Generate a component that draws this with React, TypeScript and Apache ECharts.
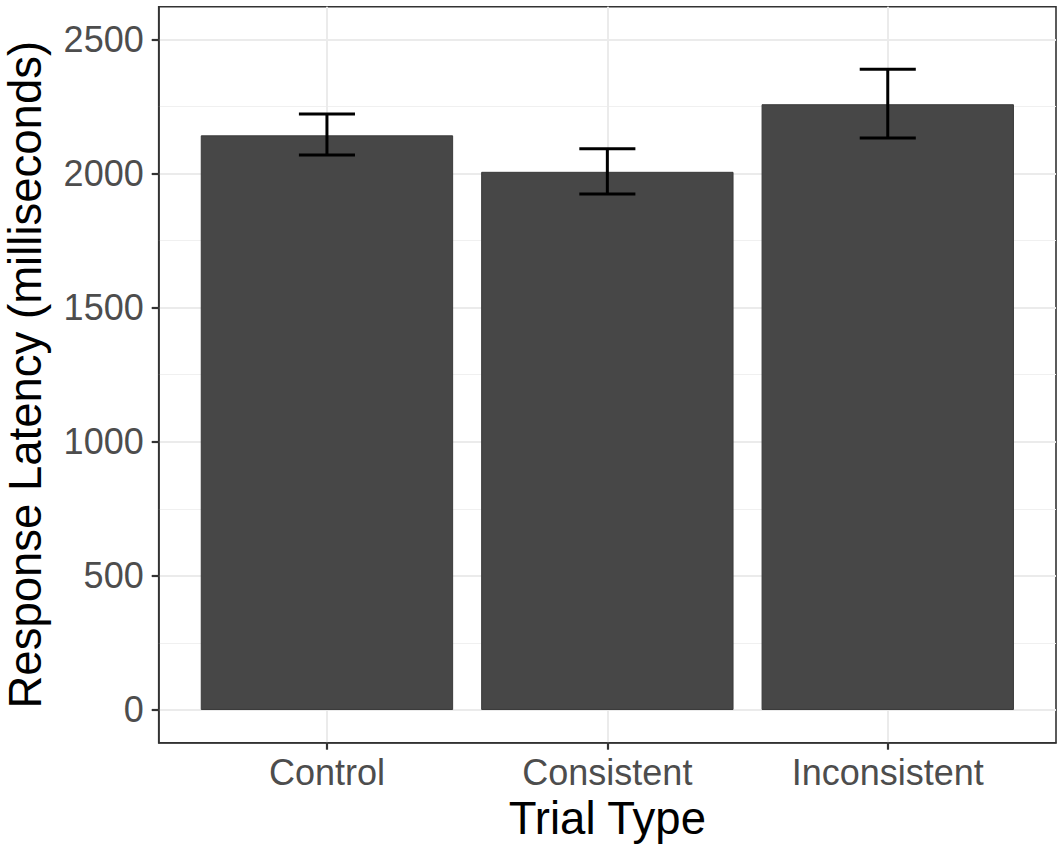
import React, { useEffect, useRef } from "react";
import * as echarts from "echarts";

const categories = ["Control", "Consistent", "Inconsistent"];
const means = [2142, 2006, 2258];
const errLow = [2069, 1923, 2132];
const errHigh = [2222, 2092, 2388];
const yMajorTicks = [0, 500, 1000, 1500, 2000, 2500];
const yMinorTicks = [250, 750, 1250, 1750, 2250];
const xTicks = [0, 1, 2];

const FONT = "'Liberation Sans', Arial, Helvetica, sans-serif";

export default function App() {
  const ref = useRef<HTMLDivElement>(null);
  useEffect(() => {
    if (!ref.current) return;
    const chart = echarts.init(ref.current, undefined, { renderer: "svg" });
    const barData = means.map((v, i) => [i, v]);
    const errData = means.map((_, i) => [i, errLow[i], errHigh[i]]);
    chart.setOption({
      animation: false,
      backgroundColor: "#ffffff",
      grid: {
        left: 158.7,
        right: 7,
        top: 6.7,
        bottom: 106.3,
        containLabel: false,
        outerBoundsMode: "none",
        show: true,
        borderColor: "#333333",
        borderWidth: 1.6,
        backgroundColor: "transparent",
      },
      xAxis: {
        type: "value",
        min: -0.6,
        max: 2.6,
        name: "Trial Type",
        nameLocation: "middle",
        nameGap: 41,
        nameTextStyle: { fontSize: 45.5, color: "#000000", fontFamily: FONT },
        axisLine: { show: true, onZero: false, lineStyle: { color: "#333333", width: 1.6 } },
        axisTick: {
          show: true,
          length: 7,
          customValues: xTicks,
          lineStyle: { color: "#333333", width: 2.2 },
        },
        axisLabel: {
          show: true,
          customValues: xTicks,
          margin: 12,
          fontSize: 36,
          color: "#4D4D4D",
          fontFamily: FONT,
          formatter: (v: number) => categories[Math.round(v)] ?? "",
        },
        splitLine: { show: true, lineStyle: { color: "#EBEBEB", width: 2 } },
      },
      yAxis: [
        {
          type: "value",
          position: "left",
          min: -121.9,
          max: 2621.5,
          name: "Response Latency (milliseconds)",
          nameLocation: "middle",
          nameGap: 112,
          nameTextStyle: { fontSize: 45.5, lineHeight: 42, color: "#000000", fontFamily: FONT },
          axisLine: { show: true, onZero: false, lineStyle: { color: "#333333", width: 1.6 } },
          axisTick: {
            show: true,
            length: 7,
            customValues: yMajorTicks,
            lineStyle: { color: "#333333", width: 2.2 },
          },
          axisLabel: {
            show: true,
            customValues: yMajorTicks,
            margin: 15,
            fontSize: 36,
            color: "#4D4D4D",
            fontFamily: FONT,
            formatter: (v: number) => String(v),
          },
          splitLine: { show: true, lineStyle: { color: "#EBEBEB", width: 2 } },
        },
        {
          type: "value",
          position: "left",
          min: -121.9,
          max: 2621.5,
          axisLine: { show: false, onZero: false },
          axisTick: { show: false, customValues: yMinorTicks },
          axisLabel: { show: false, customValues: yMinorTicks },
          splitLine: { show: true, lineStyle: { color: "#F0F0F0", width: 1.2 } },
        },
      ],
      series: [
        {
          type: "bar",
          xAxisIndex: 0,
          yAxisIndex: 0,
          data: barData,
          barWidth: "90%",
          itemStyle: { color: "#474747", borderColor: "#3a3a3a", borderWidth: 1 },
          z: 2,
        },
        {
          type: "custom",
          xAxisIndex: 0,
          yAxisIndex: 0,
          data: errData,
          z: 3,
          renderItem: (params: any, api: any) => {
            const x = api.value(0);
            const lo = api.value(1);
            const hi = api.value(2);
            const pTop = api.coord([x, hi]);
            const pBot = api.coord([x, lo]);
            const capL = api.coord([x - 0.1, hi]);
            const capR = api.coord([x + 0.1, hi]);
            const capL2 = api.coord([x - 0.1, lo]);
            const capR2 = api.coord([x + 0.1, lo]);
            const style = { stroke: "#000000", lineWidth: 3 };
            return {
              type: "group",
              children: [
                { type: "line", shape: { x1: pTop[0], y1: pTop[1], x2: pBot[0], y2: pBot[1] }, style },
                { type: "line", shape: { x1: capL[0], y1: capL[1], x2: capR[0], y2: capR[1] }, style },
                { type: "line", shape: { x1: capL2[0], y1: capL2[1], x2: capR2[0], y2: capR2[1] }, style },
              ],
            };
          },
        },
      ],
    });
    return () => chart.dispose();
  }, []);
  return (
    <div
      ref={ref}
      style={{ position: "absolute", left: 0, top: 0, width: 1063, height: 849 }}
    />
  );
}
